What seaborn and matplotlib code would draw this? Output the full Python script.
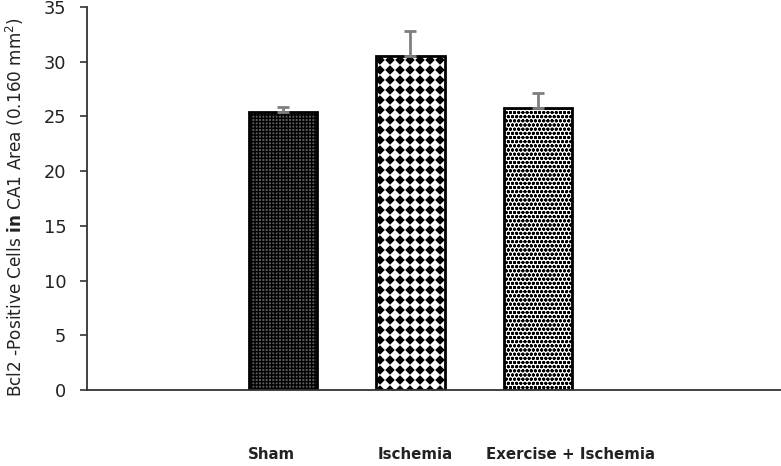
import warnings
import numpy as np
import pandas as pd
import matplotlib
matplotlib.use("Agg")
import matplotlib.pyplot as plt
import matplotlib.hatch as mhatch
from matplotlib.path import Path
import seaborn as sns

warnings.filterwarnings("ignore")

# ---- data ----
categories = ["Sham", "Ischemia", "Exercise + Ischemia"]
means = [25.4, 30.5, 25.8]
sem_up = [0.5, 2.3, 1.3]
yticks = [0, 5, 10, 15, 20, 25, 30, 35]


# custom "diamond checkerboard" hatch (axis-aligned square grid of diamonds)
class Diamonds(mhatch.HatchPatternBase):
    def __init__(self, hatch, density):
        self.num_rows = int(round(hatch.count('d') * density * 5 / 6))
        self.num_vertices = 5 * (self.num_rows + 1) ** 2 if self.num_rows else 0

    def set_vertices_and_codes(self, vertices, codes):
        n = self.num_rows
        off = 1.0 / n
        h = off * 0.38
        shape = np.array([[0, -h], [h, 0], [0, h], [-h, 0], [0, -h]])
        parts = []
        for r in range(n + 1):
            for c in range(n + 1):
                parts.append(shape + [c * off, r * off])
        vertices[:] = np.concatenate(parts)
        cod = np.tile([Path.MOVETO, Path.LINETO, Path.LINETO, Path.LINETO,
                       Path.CLOSEPOLY], len(parts))
        codes[:] = cod


class FilledDiamonds(Diamonds):
    filled = True


mhatch._hatch_types.append(FilledDiamonds)

df = pd.DataFrame({"group": categories, "value": means})

fig = plt.figure(figsize=(7.81, 4.66), dpi=100)
ax = fig.add_axes([0.1114, 0.163, 0.8886, 0.822])
sns.set_style("white")
plt.rcParams["hatch.linewidth"] = 1.0

sns.barplot(data=df, x="group", y="value", order=categories, ax=ax,
            width=0.54, errorbar=None, color="white", saturation=1,
            edgecolor="black", linewidth=2)

hatches = ["+++++", "dd", "oooo"]
faces = ["#5e5e5e", "white", "white"]
for patch, h, fc in zip(ax.patches, hatches, faces):
    patch.set_hatch(h)
    patch.set_facecolor(fc)
    patch.set_edgecolor("black")

xpos = np.arange(len(categories))
ax.errorbar(xpos, means, yerr=[np.zeros(len(means)), sem_up], fmt="none",
            ecolor="#7f7f7f", elinewidth=2, capsize=4.5, capthick=2, zorder=3)

ax.set_xlim(-1.537, 3.906)
ax.set_ylim(0, 35)
ax.set_yticks(yticks)
ax.set_yticklabels([str(t) for t in yticks], fontsize=12.8, color="#222222")
ax.tick_params(axis="y", direction="out", length=5, width=1.2, pad=10,
               left=True, color="#333333")

label_offsets = [-0.09, 0.035, 0.255]
ax.set_xticks(xpos + np.array(label_offsets))
ax.set_xticklabels(categories, fontsize=10.8, fontweight="bold",
                   color="#222222")
ax.tick_params(axis="x", length=0, pad=41)
ax.set_xlabel("")

ax.set_ylabel(r"Bcl2 -Positive Cells $\mathbf{in}$ CA1 Area (0.160 mm$^2$)",
              fontsize=12.2, color="#222222")
ax.yaxis.set_label_coords(-0.088, 0.478)

for s in ["top", "right"]:
    ax.spines[s].set_visible(False)
for s in ["left", "bottom"]:
    ax.spines[s].set_color("#333333")
    ax.spines[s].set_linewidth(1.3)

fig.savefig("out.png", dpi=100)
